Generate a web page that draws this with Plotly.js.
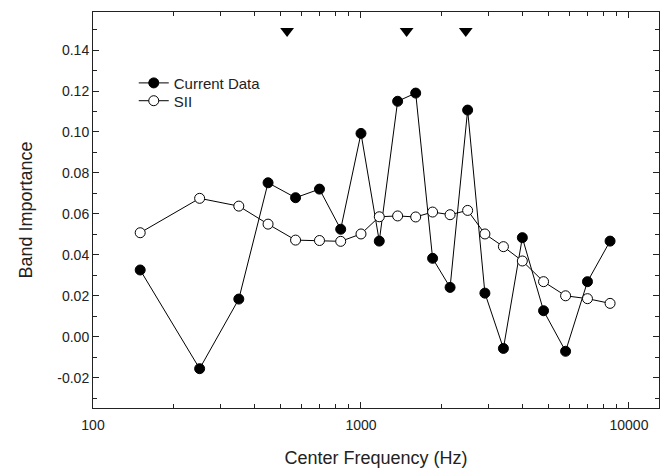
<!DOCTYPE html>
<html>
<head>
<meta charset="utf-8">
<script src="https://cdn.plot.ly/plotly-3.0.1.min.js"></script>
<style>html,body{margin:0;padding:0;background:#fff;}#chart{width:670px;height:468px;}</style>
</head>
<body>
<div id="chart"></div>
<script>
var freqs = [150, 250, 350, 450, 570, 700, 840, 1000, 1170, 1370, 1600, 1850, 2150, 2500, 2900, 3400, 4000, 4800, 5800, 7000, 8500];
var currentData = [0.0326, -0.0156, 0.0184, 0.0752, 0.0679, 0.0721, 0.0525, 0.0993, 0.0467, 0.1150, 0.1190, 0.0383, 0.0241, 0.1107, 0.0213, -0.0057, 0.0484, 0.0127, -0.0071, 0.0269, 0.0467];
var siiData = [0.0508, 0.0676, 0.0638, 0.0550, 0.0472, 0.0470, 0.0466, 0.0502, 0.0586, 0.0590, 0.0585, 0.0609, 0.0596, 0.0617, 0.0502, 0.0440, 0.0370, 0.0269, 0.0200, 0.0186, 0.0163];
var arrowFreqs = [530, 1480, 2460];
var arrowY = [0.1493, 0.1493, 0.1493];
var yTickVals = [-0.02, 0.00, 0.02, 0.04, 0.06, 0.08, 0.10, 0.12, 0.14];
var yTickText = ['-0.02', '0.00', '0.02', '0.04', '0.06', '0.08', '0.10', '0.12', '0.14'];
var xTickVals = [100, 1000, 10000];
var xTickText = ['100', '1000', '10000'];
var xMinor = [200, 300, 400, 500, 600, 700, 800, 900, 2000, 3000, 4000, 5000, 6000, 7000, 8000, 9000];

var traces = [
  {x: freqs, y: currentData, name: 'Current Data', type: 'scatter', mode: 'lines+markers', legend: 'legend',
   line: {color: '#000', width: 1},
   marker: {symbol: 'circle', size: 10, color: '#000', line: {color: '#000', width: 1}}},
  {x: freqs, y: siiData, name: 'SII', type: 'scatter', mode: 'lines+markers', legend: 'legend2',
   line: {color: '#000', width: 1},
   marker: {symbol: 'circle', size: 10, color: '#fff', line: {color: '#000', width: 1}}},
  {x: arrowFreqs, y: arrowY, type: 'scatter', mode: 'markers', showlegend: false, hoverinfo: 'skip',
   marker: {symbol: 'triangle-down', size: 12, color: '#000'}}
];

var ff = 'Liberation Sans, Arial, sans-serif';
var legendFont = {family: ff, size: 15, color: '#222'};
var layout = {
  width: 670, height: 468,
  margin: {l: 93, r: 11, t: 12, b: 60},
  paper_bgcolor: '#fff', plot_bgcolor: '#fff',
  font: {family: ff, color: '#222'},
  showlegend: true,
  legend: {x: 0.072, y: 0.862, xanchor: 'left', yanchor: 'top', bgcolor: 'rgba(0,0,0,0)', font: legendFont},
  legend2: {x: 0.072, y: 0.817, xanchor: 'left', yanchor: 'top', bgcolor: 'rgba(0,0,0,0)', font: legendFont},
  xaxis: {
    type: 'log', range: [2, 4.112], showgrid: false, zeroline: false,
    showline: true, linecolor: '#222', linewidth: 1, mirror: 'ticks',
    ticks: 'inside', ticklen: 6, tickcolor: '#222', tickwidth: 1,
    tickmode: 'array', tickvals: xTickVals, ticktext: xTickText,
    tickfont: {family: ff, size: 14, color: '#222'}, ticklabelstandoff: 4,
    minor: {tickmode: 'array', tickvals: xMinor, ticks: 'inside', ticklen: 4, tickcolor: '#222', tickwidth: 1, showgrid: false},
    title: {text: 'Center Frequency (Hz)', font: {family: ff, size: 18, color: '#222'}, standoff: 19}
  },
  yaxis: {
    range: [-0.0348, 0.1586], showgrid: false, zeroline: false,
    showline: true, linecolor: '#222', linewidth: 1, mirror: 'ticks',
    ticks: 'inside', ticklen: 6, tickcolor: '#222', tickwidth: 1,
    tickmode: 'array', tickvals: yTickVals, ticktext: yTickText,
    tickfont: {family: ff, size: 14, color: '#222'},
    minor: {dtick: 0.01, tick0: 0, ticks: 'inside', ticklen: 4, tickcolor: '#222', tickwidth: 1, showgrid: false},
    title: {text: 'Band Importance', font: {family: ff, size: 18, color: '#222'}, standoff: 19}
  }
};
Plotly.newPlot('chart', traces, layout, {displayModeBar: false, staticPlot: true});
</script>
</body>
</html>
